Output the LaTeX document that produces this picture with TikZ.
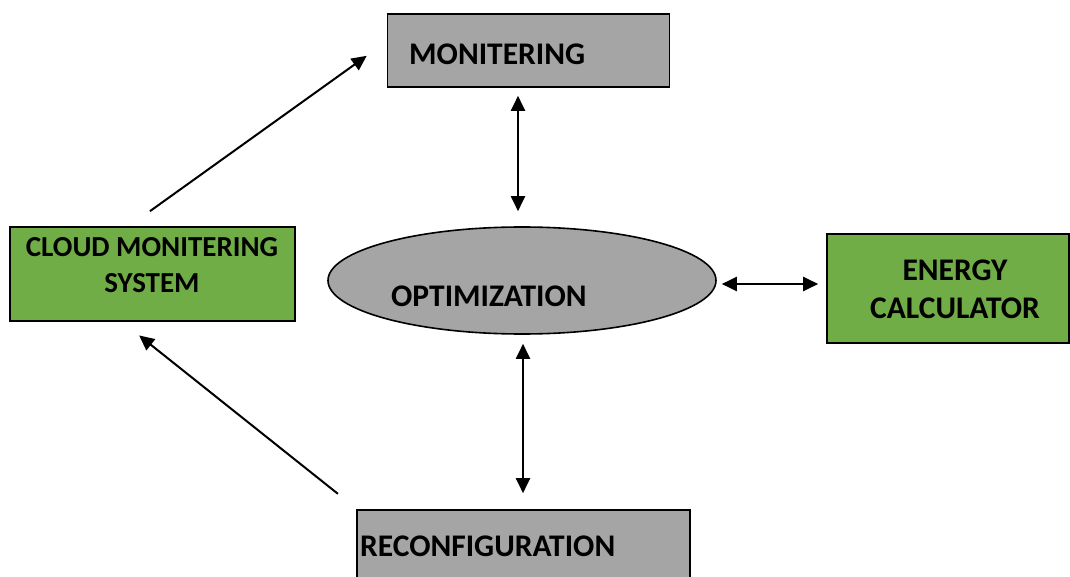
\documentclass[tikz,border=0pt]{standalone}
\usepackage{fontspec}
\setmainfont{Carlito}
\usetikzlibrary{arrows.meta,shapes.geometric,calc}
\definecolor{boxgray}{HTML}{A5A5A5}
\definecolor{boxgreen}{HTML}{70AD47}
\tikzset{
  box/.style={draw=black, line width=1.6pt, inner sep=0pt},
  graybox/.style={box, fill=boxgray},
  greenbox/.style={box, fill=boxgreen},
  lbl/.style={inner sep=0pt, font=\fontsize{31.5}{38}\selectfont\bfseries, text=black},
  smalllbl/.style={inner sep=0pt, font=\fontsize{29}{36.5}\selectfont\bfseries, text=black},
  conn/.style={line width=2pt, -{Triangle[length=15pt,width=14pt]}},
  biconn/.style={line width=2pt, {Triangle[length=15pt,width=14pt]}-{Triangle[length=15pt,width=14pt]}}
}
\begin{document}
\begin{tikzpicture}[x=1pt,y=1pt]
\useasboundingbox (0,0) rectangle (1070,-577);
% boxes
\node[graybox, minimum width=282pt, minimum height=73pt] (mon) at (528.5,-50.5) {};
\node[greenbox, minimum width=285pt, minimum height=94pt] (cloud) at (152.5,-274) {};
\node[graybox, ellipse, minimum width=388pt, minimum height=107pt] (opt) at (522,-280.5) {};
\node[greenbox, minimum width=242pt, minimum height=109pt] (energy) at (948,-288.5) {};
\node[graybox, minimum width=333pt, minimum height=90pt] (reconf) at (523.5,-555) {};
% labels
\node[lbl, anchor=west] (tmon) at (409,-54.5) {MONITERING};
\node[smalllbl, align=center] (tcloud) at (152,-265) {CLOUD MONITERING\\SYSTEM};
\node[lbl, anchor=west] (topt) at (391,-296.5) {OPTIMIZATION};
\node[lbl, align=center] (tenergy) at (955,-289) {ENERGY\\CALCULATOR};
\node[lbl, anchor=west] (treconf) at (360,-546) {RECONFIGURATION};
% connectors
\draw[conn, shorten <=25.7pt, shorten >=24.6pt] ([xshift=-23.5pt]cloud.north) -- ([yshift=9pt]mon.west);
\draw[conn, shorten <=24.7pt, shorten >=21.9pt] ([xshift=1pt]reconf.north west) -- ([xshift=-30.5pt]cloud.south);
\draw[biconn, shorten <=8pt, shorten >=15pt] ([xshift=-10.5pt]mon.south) -- ([xshift=-4pt]opt.north);
\draw[biconn, shorten <=9pt, shorten >=16pt] ([xshift=1pt]opt.south) -- ([xshift=-0.5pt]reconf.north);
\draw[biconn, shorten <=5pt, shorten >=8pt] ([yshift=-3.5pt]opt.east) -- ([yshift=4.5pt]energy.west);
\end{tikzpicture}
\end{document}
